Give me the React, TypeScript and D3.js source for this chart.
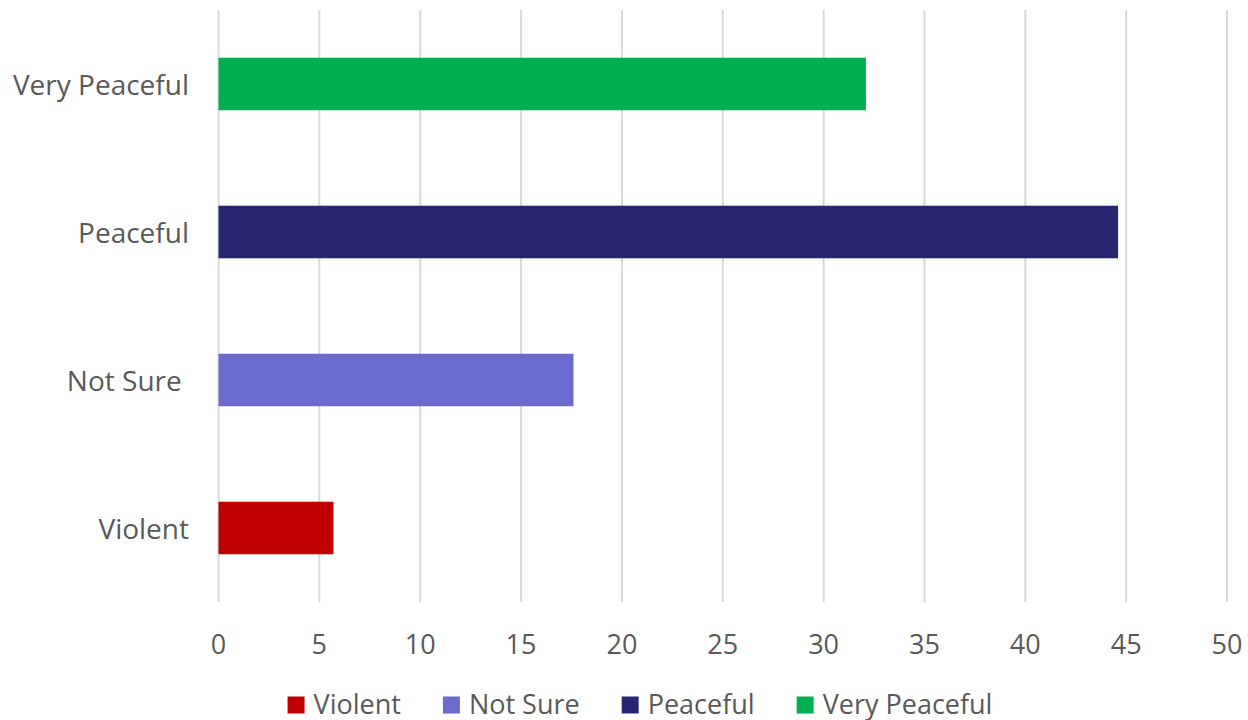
import React, { useEffect, useRef } from "react";
import * as d3 from "d3";

const categories = ["Violent", "Not Sure ", "Peaceful", "Very Peaceful"];
const values = [5.7, 17.6, 44.6, 32.1];
const colors = ["#C00000", "#6B6BCF", "#262671", "#00B050"];
const xTicks = [0, 5, 10, 15, 20, 25, 30, 35, 40, 45, 50];
const legendLabels = ["Violent", "Not Sure", "Peaceful", "Very Peaceful"];

const W = 1248;
const H = 720;
const FONT = "'Open Sans', sans-serif";

export default function App() {
  const ref = useRef<SVGSVGElement | null>(null);

  useEffect(() => {
    const svg = d3.select(ref.current);
    svg.selectAll("*").remove();

    const left = 218.5;
    const right = 1227;
    const top = 10;
    const bottom = 602;

    const x = d3.scaleLinear().domain([0, 50]).range([left, right]);
    const y = d3
      .scaleBand<string>()
      .domain([...categories].reverse())
      .range([top, bottom])
      .paddingInner(0.645)
      .paddingOuter(0.3225);

    svg
      .append("g")
      .selectAll("line")
      .data(xTicks)
      .join("line")
      .attr("x1", (d) => x(d))
      .attr("x2", (d) => x(d))
      .attr("y1", top)
      .attr("y2", bottom)
      .attr("stroke", "#D9D9D9")
      .attr("stroke-width", 2);

    svg
      .append("g")
      .selectAll("rect")
      .data(categories)
      .join("rect")
      .attr("x", x(0))
      .attr("y", (d) => y(d) as number)
      .attr("width", (d, i) => x(values[i]) - x(0))
      .attr("height", y.bandwidth())
      .attr("fill", (d, i) => colors[i]);

    svg
      .append("g")
      .selectAll("text")
      .data(xTicks)
      .join("text")
      .attr("x", (d) => x(d))
      .attr("y", 643)
      .attr("text-anchor", "middle")
      .attr("dominant-baseline", "central")
      .attr("font-family", FONT)
      .attr("font-size", 27)
      .attr("fill", "#595959")
      .text((d) => String(d));

    svg
      .append("g")
      .selectAll("text")
      .data(categories)
      .join("text")
      .attr("x", 189)
      .attr("y", (d) => (y(d) as number) + y.bandwidth() / 2)
      .attr("text-anchor", "end")
      .attr("dominant-baseline", "central")
      .attr("font-family", FONT)
      .attr("font-size", 28)
      .attr("fill", "#595959")
      .style("white-space", "pre")
      .text((d) => d);

    const lg = svg.append("g");
    const sq = 17;
    const gapText = 9;
    const gapItem = 42;
    const ly = 703;
    const items = legendLabels.map((l, i) => {
      const t = lg
        .append("text")
        .attr("dominant-baseline", "central")
        .attr("font-family", FONT)
        .attr("font-size", 27)
        .attr("fill", "#595959")
        .attr("y", ly)
        .text(l);
      const w = (t.node() as SVGTextElement).getComputedTextLength();
      return { t, w, i };
    });
    const total =
      items.reduce((s, it) => s + sq + gapText + it.w, 0) +
      gapItem * (items.length - 1);
    let cx = 640 - total / 2;
    items.forEach((it) => {
      lg.append("rect")
        .attr("x", cx)
        .attr("y", ly - sq / 2 + 2)
        .attr("width", sq)
        .attr("height", sq)
        .attr("fill", colors[it.i]);
      it.t.attr("x", cx + sq + gapText);
      cx += sq + gapText + it.w + gapItem;
    });
  }, []);

  return (
    <svg
      ref={ref}
      width={W}
      height={H}
      style={{ position: "absolute", left: 0, top: 0, background: "#fff" }}
    />
  );
}
